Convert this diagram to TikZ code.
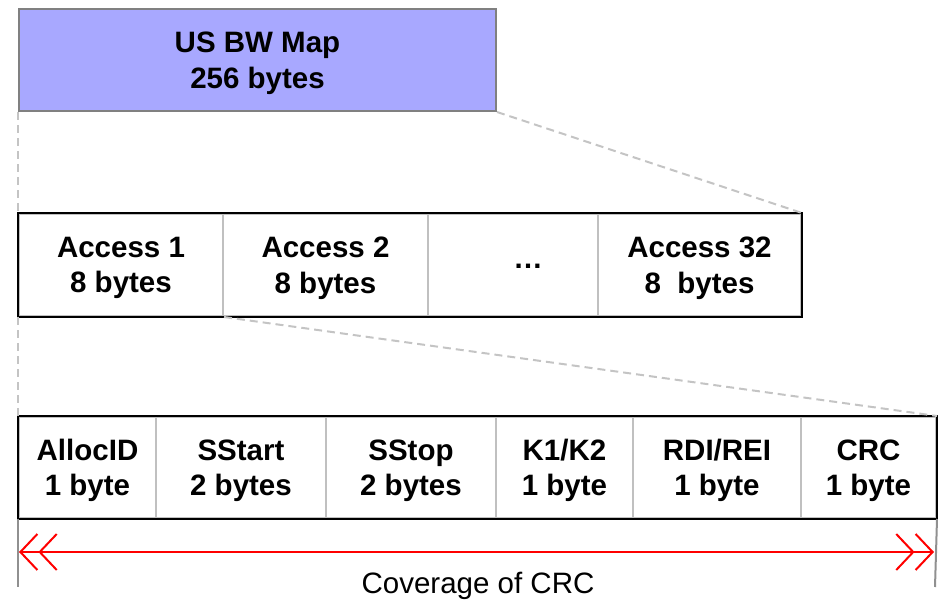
\documentclass[tikz,border=0pt]{standalone}
\usepackage{fontspec}
\setmainfont{Liberation Sans}
\usetikzlibrary{arrows.meta}
\definecolor{mapfill}{HTML}{A8A8FF}
\definecolor{mapborder}{HTML}{808080}
\definecolor{divgray}{HTML}{C0C0C0}
\definecolor{dashgray}{HTML}{C4C4C4}
\definecolor{vgray}{HTML}{909090}
\begin{document}
\begin{tikzpicture}[x=1pt,y=-1pt,
  lbl/.style={font=\bfseries\fontsize{29.5}{35.5}\selectfont, align=center, inner sep=0pt, text depth=0pt},
  cellbox/.style={lbl, draw=divgray, line width=2pt, minimum height=102pt, anchor=north west},
  cellbox2/.style={lbl, draw=divgray, line width=2pt, minimum height=101pt, anchor=north west},
  frame/.style={draw=black, line width=2.5pt},
  zoomline/.style={draw=dashgray, line width=2pt, dash pattern=on 8pt off 5pt},
  edge/.style={draw=vgray, line width=2pt},
  cover/.style={draw=red, line width=2pt, {Straight Barb[length=17pt,width=36pt,sep=0pt]Straight Barb[length=17pt,width=36pt,sep=0pt]}-{Straight Barb[length=17pt,width=36pt,sep=0pt]Straight Barb[length=17pt,width=36pt,sep=0pt]}}
]
\useasboundingbox (0,0) rectangle (938,600);

% top map box
\node[lbl, draw=mapborder, fill=mapfill, line width=2pt, minimum width=477pt, minimum height=102pt, anchor=north west] (map) at (18,8) {US BW Map\\256 bytes};

% access row
\node[cellbox, minimum width=204pt] (a1) at (18,213) {Access 1\\8 bytes};
\node[cellbox, minimum width=205pt] (a2) at (222,213) {Access 2\\8 bytes};
\node[cellbox, minimum width=170pt] (adots) at (427,213) {};
\node[lbl, anchor=base] (dots) at (528,268) {…};
\node[cellbox, minimum width=203pt] (a32) at (597,213) {Access 32\\8\ \ bytes};
\draw[frame] (a1.north west) rectangle (a32.south east);

% field row
\node[cellbox2, minimum width=137pt] (alloc) at (18,416) {AllocID\\1 byte};
\node[cellbox2, minimum width=170pt] (sstart) at (155,416) {SStart\\2 bytes};
\node[cellbox2, minimum width=170pt] (sstop) at (325,416) {SStop\\2 bytes};
\node[cellbox2, minimum width=137pt] (k12) at (495,416) {K1/K2\\1 byte};
\node[cellbox2, minimum width=168pt] (rdi) at (632,416) {RDI/REI\\1 byte};
\node[cellbox2, minimum width=135pt] (crc) at (800,416) {CRC\\1 byte};
\draw[frame] (alloc.north west) rectangle (crc.south east);

% zoom guide lines
\draw[zoomline] (map.south west) -- (a1.north west);
\draw[zoomline] (map.south east) -- (a32.north east);
\draw[zoomline] (a1.south west) -- (alloc.north west);
\draw[zoomline] (a1.south east) -- (crc.north east);

% coverage span
\coordinate (lend) at (18,587);
\coordinate (rend) at (935,587);
\draw[edge] (alloc.south west) -- (lend);
\draw[edge] (crc.south east) -- (rend);
\coordinate (al) at (19,552);
\coordinate (ar) at (934,552);
\draw[cover] (al) -- (ar);
\node[font=\fontsize{29.5}{35.5}\selectfont, inner sep=0pt, anchor=base] (cov) at (478,593) {Coverage of CRC};
\end{tikzpicture}
\end{document}
